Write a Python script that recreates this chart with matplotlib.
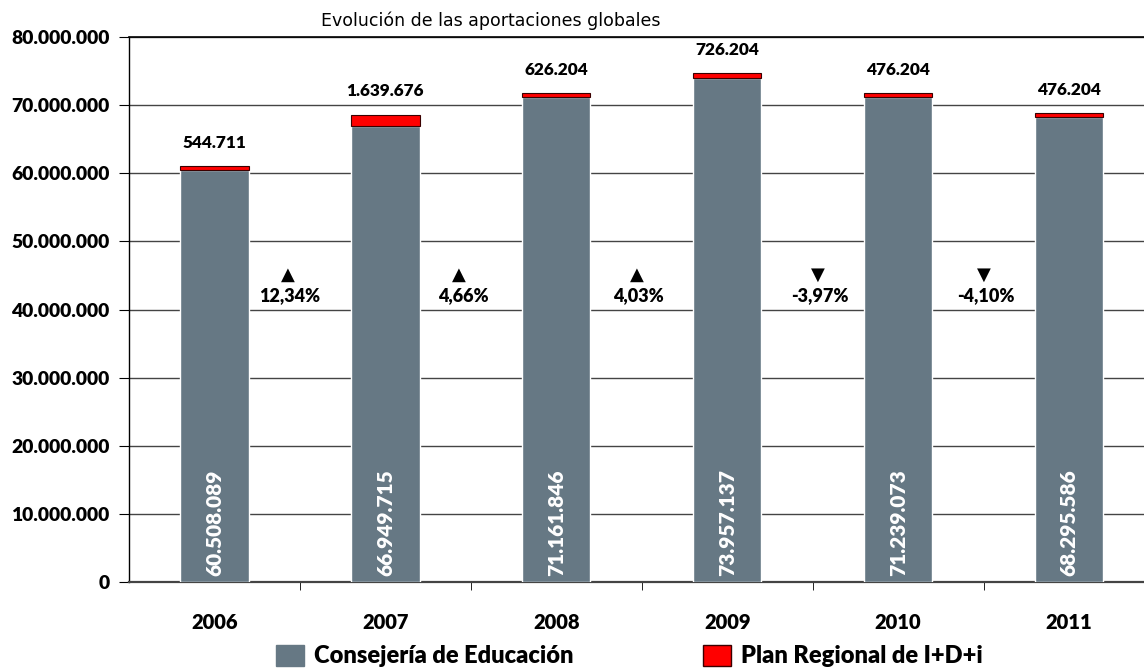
import numpy as np
import matplotlib.pyplot as plt
from matplotlib.patches import Patch

years = ["2006", "2007", "2008", "2009", "2010", "2011"]
consejeria = [60508089, 66949715, 71161846, 73957137, 71239073, 68295586]
plan_regional = [544711, 1639676, 626204, 726204, 476204, 476204]
variaciones = ["12,34%", "4,66%", "4,03%", "-3,97%", "-4,10%"]
subidas = [True, True, True, False, False]

# horizontal placement of the change labels, relative to the left bar
pct_dx = [0.44, 0.455, 0.48, 0.54, 0.515]
tri_dx = [0.43, 0.43, 0.47, 0.53, 0.50]


def miles(v):
    return "{:,}".format(int(v)).replace(",", ".")


plt.rcParams['font.family'] = ['Lato', 'DejaVu Sans']
W = "heavy"
gray = "#667884"

fig = plt.figure(figsize=(11.44, 6.7), dpi=100)
ax = fig.add_axes([0.1128, 0.1313, 0.8872, 0.8135])

x = np.arange(len(years))
width = 0.40
ax.bar(x, consejeria, width, color=gray, edgecolor="white", linewidth=1.0, zorder=3)
ax.bar(x, plan_regional, width, bottom=consejeria, color="#ff0000",
       edgecolor="#3a0000", linewidth=0.8, zorder=3)

for i, (c, p) in enumerate(zip(consejeria, plan_regional)):
    ax.text(i, 900000, miles(c), rotation=90, ha="center", va="bottom",
            color="white", fontsize=15, fontweight=W, zorder=4)
    ax.annotate(miles(p), (i, c + p), xytext=(0, 11), textcoords="offset points",
                ha="center", va="bottom", fontsize=12.4, fontweight=W)

for i, (txt, up) in enumerate(zip(variaciones, subidas)):
    ax.text(i + tri_dx[i], 45100000, "▲" if up else "▼", ha="center", va="center",
            fontsize=13, family="DejaVu Sans")
    ax.text(i + pct_dx[i], 42000000, txt, ha="center", va="center",
            fontsize=13, fontweight=W)

ax.set_ylim(0, 80000000)
ax.set_xlim(-0.5, 5 + (1144 - 1069) / 171)
yt = np.arange(0, 80000001, 10000000)
ax.set_yticks(yt)
ax.set_yticklabels([miles(v) for v in yt], fontsize=13.9, fontweight=W)
ax.yaxis.grid(True, color="#444444", linewidth=1.0, zorder=0)
ax.tick_params(axis="y", length=7, direction="out", pad=7)

ax.set_xticks(x)
ax.set_xticklabels(years, fontsize=14.5, fontweight=W)
ax.tick_params(axis="x", length=0, pad=22)
ax.set_xticks(np.arange(0.5, 5.5, 1), minor=True)
ax.tick_params(axis="x", which="minor", length=6, direction="out")

ax.spines["right"].set_visible(False)
ax.spines["top"].set_linewidth(1.2)
ax.spines["left"].set_linewidth(1.0)
ax.spines["bottom"].set_color("#444444")
ax.spines["bottom"].set_linewidth(1.6)

fig.text(0.281, 0.969, "Evolución de las aportaciones globales",
         fontsize=12.5, family="DejaVu Sans", va="center")

handles = [Patch(facecolor=gray, edgecolor=gray),
           Patch(facecolor="#ff0000", edgecolor="#3a0000")]
fig.legend(handles, ["Consejería de Educación", "Plan Regional de I+D+i"],
           loc="center", bbox_to_anchor=(0.55, 0.021), ncol=2, frameon=False,
           prop={"size": 17, "weight": W}, columnspacing=5.5,
           handlelength=1.2, handleheight=1.0, handletextpad=0.4)

fig.savefig("out.png", dpi=100)
